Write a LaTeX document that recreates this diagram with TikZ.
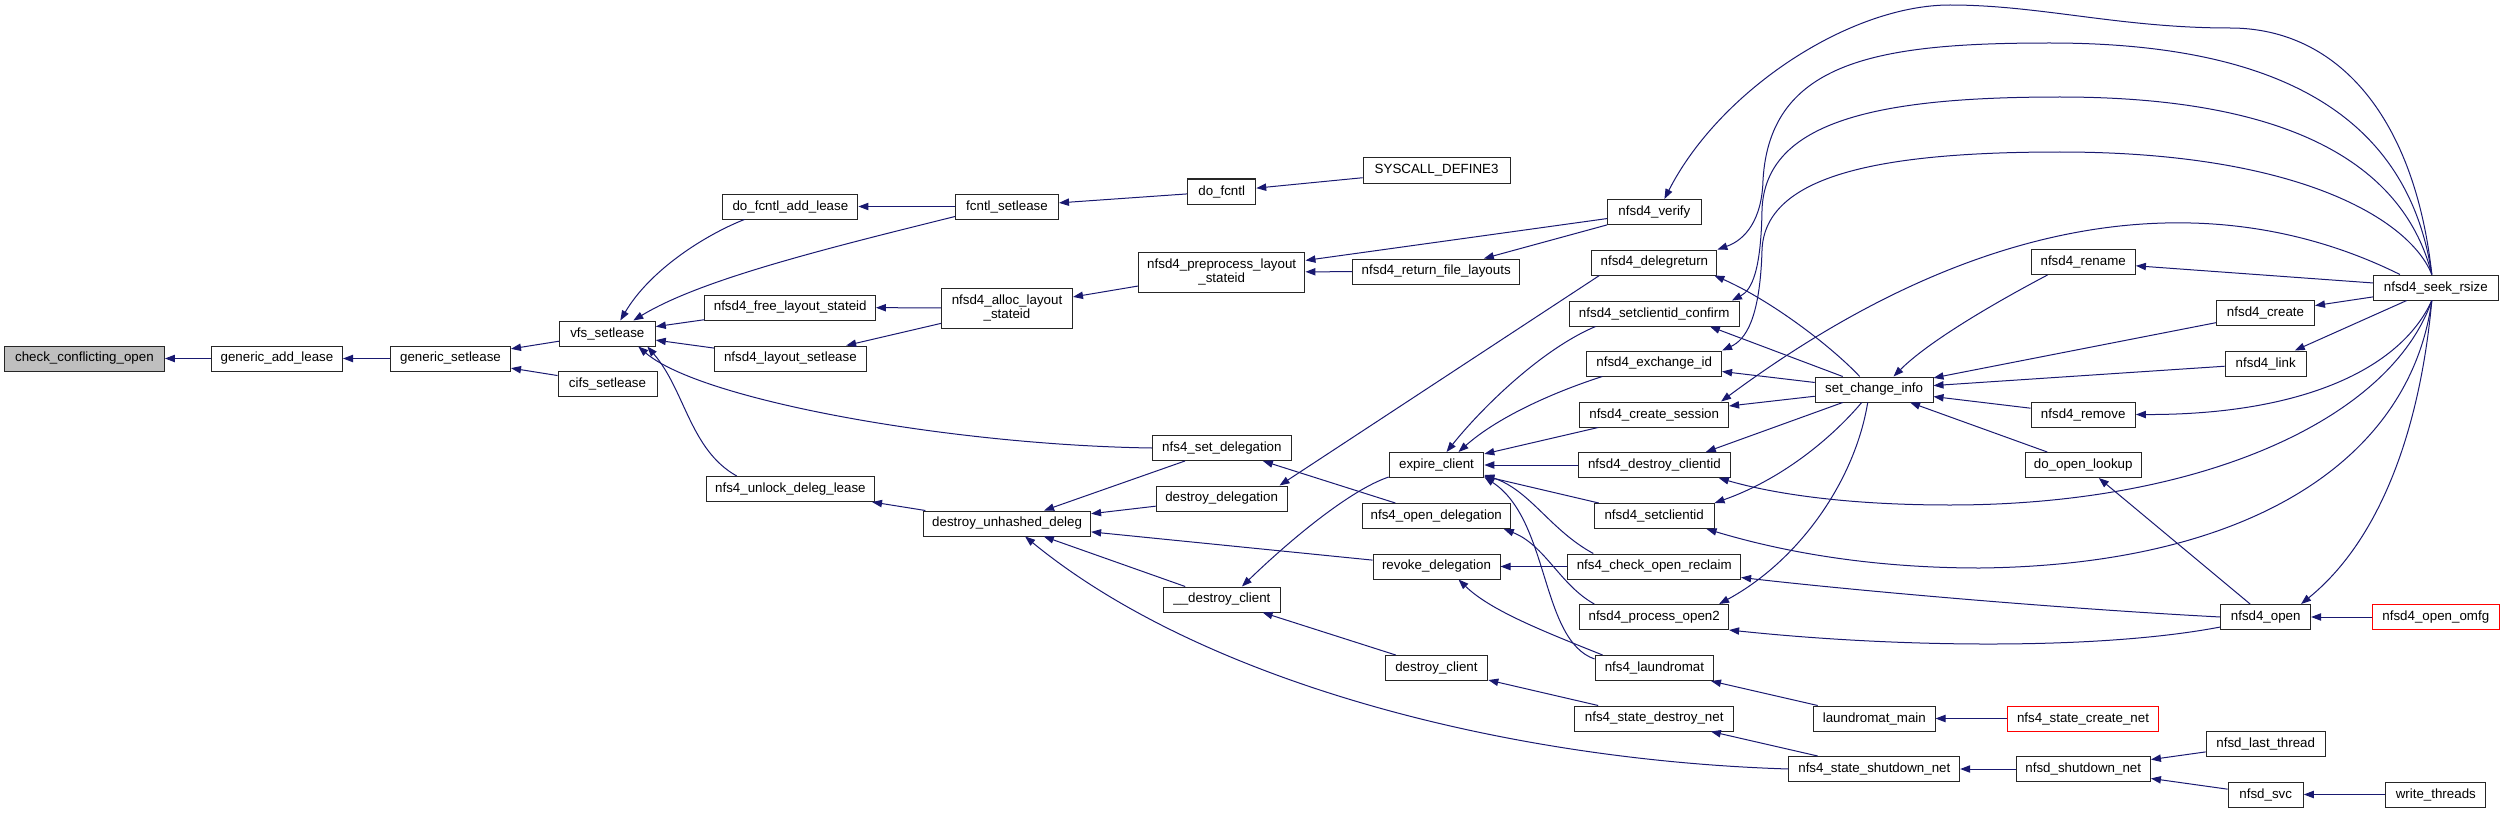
\documentclass[tikz,border=0pt]{standalone}
\usepackage{fontspec}
\setmainfont{Liberation Sans}
\usetikzlibrary{arrows.meta,calc}
\definecolor{edgeblue}{HTML}{191970}
\definecolor{rootgray}{HTML}{BFBFBF}

\begin{document}
\begin{tikzpicture}[x=0.75pt,y=-0.75pt,
    fn/.style={draw=black!85,fill=white,line width=0.75pt,inner xsep=2pt,inner ysep=0pt,
      minimum height=18.75pt,align=center,font=\fontsize{10}{10.7}\selectfont},
    bw/.style={minimum width=#1*0.75pt},
    tall/.style={minimum height=30pt},
    redbox/.style={draw=red},
    call/.style={draw=edgeblue,line width=0.75pt,-{Triangle[length=7.5pt,width=5.5pt]}}]
    \useasboundingbox (0,0) rectangle (2504,813);

    \node[fn,bw=160,fill=rootgray] (root) at (84.4,358.5) {check\_conflicting\_open};
    \node[fn,bw=131] (gal) at (277,358.5) {generic\_add\_lease};
    \node[fn,bw=120] (gsl) at (450.5,358.5) {generic\_setlease};
    \node[fn,bw=96] (vfs) at (607.3,333.5) {vfs\_setlease};
    \node[fn,bw=99] (cifs) at (607.5,383.5) {cifs\_setlease};
    \node[fn,bw=135] (dfal) at (790.4,206.5) {do\_fcntl\_add\_lease};
    \node[fn,bw=103] (fsl) at (1007,206.5) {fcntl\_setlease};
    \node[fn,bw=68] (dofcntl) at (1221.7,191.5) {do\_fcntl};
    \node[fn,bw=147] (sysdef) at (1436.6,170.5) {SYSCALL\_DEFINE3};
    \node[fn,bw=170.5] (fls) at (790.2,307.5) {nfsd4\_free\_layout\_stateid};
    \node[fn,bw=152] (lsl) at (790.4,358.5) {nfsd4\_layout\_setlease};
    \node[fn,bw=131,tall] (als) at (1007,308) {nfsd4\_alloc\_layout\\\_stateid};
    \node[fn,bw=166.5,tall] (pls) at (1221.7,272) {nfsd4\_preprocess\_layout\\\_stateid};
    \node[fn,bw=93.6] (verify) at (1654.4,212) {nfsd4\_verify};
    \node[fn,bw=167] (rfl) at (1436.2,271.5) {nfsd4\_return\_file\_layouts};
    \node[fn,bw=125] (deleg) at (1654.4,262.5) {nfsd4\_delegreturn};
    \node[fn,bw=170.4] (scc) at (1654.2,313.5) {nfsd4\_setclientid\_confirm};
    \node[fn,bw=134.7] (exid) at (1654.2,363.5) {nfsd4\_exchange\_id};
    \node[fn,bw=148.8] (csess) at (1654.2,414.5) {nfsd4\_create\_session};
    \node[fn,bw=151.8] (dcid) at (1654.4,465) {nfsd4\_destroy\_clientid};
    \node[fn,bw=119.7] (scid) at (1654.2,516) {nfsd4\_setclientid};
    \node[fn,bw=172.8] (cor) at (1654.2,566.5) {nfs4\_check\_open\_reclaim};
    \node[fn,bw=148.8] (po2) at (1654.2,617) {nfsd4\_process\_open2};
    \node[fn,bw=118.7] (laund) at (1654.4,668) {nfs4\_laundromat};
    \node[fn,bw=158.8] (sdn) at (1654.2,718.5) {nfs4\_state\_destroy\_net};
    \node[fn,bw=117.8] (sci) at (1874.1,389.5) {set\_change\_info};
    \node[fn,bw=121.4] (lmain) at (1874.3,718.5) {laundromat\_main};
    \node[fn,bw=170.7] (ssn) at (1874.3,769) {nfs4\_state\_shutdown\_net};
    \node[fn,bw=94.6] (expire) at (1436.5,465) {expire\_client};
    \node[fn,bw=148] (nod) at (1436.3,516) {nfs4\_open\_delegation};
    \node[fn,bw=127] (revoke) at (1436.5,566.5) {revoke\_delegation};
    \node[fn,bw=102.8] (dcl) at (1436.4,668) {destroy\_client};
    \node[fn,bw=139.3] (nsd) at (1221.9,448) {nfs4\_set\_delegation};
    \node[fn,bw=168.3] (unlock) at (790.4,489) {nfs4\_unlock\_deleg\_lease};
    \node[fn,bw=167] (dud) at (1007.1,523.5) {destroy\_unhashed\_deleg};
    \node[fn,bw=130.8] (ddeleg) at (1221.6,498.5) {destroy\_delegation};
    \node[fn,bw=117.8] (dclient) at (1221.9,599.5) {\_\_destroy\_client};
    \node[fn,bw=104.4] (rename) at (2083.2,262) {nfsd4\_rename};
    \node[fn,bw=124.8] (seek) at (2435.8,287.5) {nfsd4\_seek\_rsize};
    \node[fn,bw=97.9] (create) at (2265.5,313) {nfsd4\_create};
    \node[fn,bw=81.4] (link) at (2265.7,363.5) {nfsd4\_link};
    \node[fn,bw=104.4] (remove) at (2083.2,414.5) {nfsd4\_remove};
    \node[fn,bw=115.9] (dol) at (2083.2,465) {do\_open\_lookup};
    \node[fn,bw=89.7] (nopen) at (2265.7,617) {nfsd4\_open};
    \node[fn,bw=126.4,redbox] (omfg) at (2435.8,617) {nfsd4\_open\_omfg};
    \node[fn,bw=151,redbox] (scn) at (2083,718.5) {nfs4\_state\_create\_net};
    \node[fn,bw=119.1] (nlt) at (2265.7,743.5) {nfsd\_last\_thread};
    \node[fn,bw=134.4] (nsn) at (2083.2,769) {nfsd\_shutdown\_net};
    \node[fn,bw=75.1] (svc) at (2265.7,794.5) {nfsd\_svc};
    \node[fn,bw=100.2] (wt) at (2435.8,794.5) {write\_threads};

    \draw[call] (gal) -- (root);
    \draw[call] (gsl) -- (gal);
    \draw[call] (vfs) -- (gsl);
    \draw[call] (cifs) -- (gsl);
    \draw[call] ($(dfal.south west)+(22,0)$) .. controls (705,235) and (650,270) .. ($(vfs.north)+(13,0)$);
    \draw[call] ($(fsl.south west)+(0,-3)$) .. controls (820,250) and (700,280) .. ($(vfs.north)+(26,0)$);
    \draw[call] (fls) -- (vfs);
    \draw[call] (lsl) -- (vfs);
    \draw[call] (nsd.west) .. controls (950,445) and (700,400) .. ($(vfs.south)+(31,0)$);
    \draw[call] ($(unlock.north west)+(31,0)$) .. controls (690,450) and (685,390) .. ($(vfs.south)+(40,0)$);
    \draw[call] (fsl) -- (dfal);
    \draw[call] (dofcntl) -- (fsl);
    \draw[call] (sysdef) -- (dofcntl);
    \draw[call] (als) -- (fls);
    \draw[call] (als) -- (lsl);
    \draw[call] (pls) -- (als);
    \draw[call] (verify) -- (pls);
    \draw[call] (rfl) -- (pls);
    \draw[call] (verify) -- (rfl);

    \draw[call] ($(seek.north)+(-4,0)$) .. controls (2415,120) and (2340,28) .. (2230,28)
      .. controls (2120,28) and (2040,5) .. (1950,5) .. controls (1850,5) and (1720,90) .. ($(verify.north)+(10,0)$);
    \draw[call] ($(seek.north)+(-4,0)$) .. controls (2410,130) and (2300,43) .. (2050,43)
      .. controls (1880,43) and (1770,60) .. (1763,180) .. controls (1762,220) and (1745,240) .. (deleg.north east);
    \draw[call] ($(seek.north)+(-4,0)$) .. controls (2405,170) and (2300,97) .. (2060,97)
      .. controls (1880,97) and (1765,120) .. (1762,210) .. controls (1761,270) and (1752,290) .. ($(scc.north east)+(-8,0)$);
    \draw[call] ($(seek.north)+(-4,0)$) .. controls (2410,220) and (2300,152) .. (2060,152)
      .. controls (1880,152) and (1765,175) .. (1762,250) .. controls (1760,320) and (1745,340) .. (exid.north east);
    \draw[call] ($(seek.north west)+(27,0)$) .. controls (2250,200) and (2020,180) .. ($(csess.north east)+(-8,0)$);
    \draw[call] (seek) -- (rename);
    \draw[call] (seek) -- (create);
    \draw[call] (seek) -- (link);
    \draw[call] ($(seek.south)+(-4,0)$) .. controls (2400,370) and (2300,415) .. (remove.east);
    \draw[call] ($(seek.south)+(-4,0)$) .. controls (2420,430) and (2380,540) .. ($(nopen.north east)+(-10,0)$);
    \draw[call] ($(seek.south)+(-4,0)$) .. controls (2390,420) and (2200,505) .. (1950,505)
      .. controls (1830,505) and (1760,490) .. ($(dcid.south east)+(-12,0)$);
    \draw[call] ($(seek.south)+(-4,0)$) .. controls (2410,460) and (2250,565) .. (1980,568)
      .. controls (1850,568) and (1760,545) .. ($(scid.south east)+(-8,0)$);

    \draw[call] (nopen.west) .. controls (2050,608) and (1850,590) .. ($(cor.south east)+(0,-2)$);
    \draw[call] ($(nopen.south west)+(0,-3)$) .. controls (2100,650) and (1900,648) .. (po2.south east);
    \draw[call] (omfg) -- (nopen);
    \draw[call] (nopen) -- (dol);
    \draw[call] ($(rename.south west)+(17,0)$) .. controls (2000,300) and (1930,340) .. ($(sci.north east)+(-40,0)$);
    \draw[call] (create) -- (sci);
    \draw[call] (link) -- (sci);
    \draw[call] (remove) -- (sci);
    \draw[call] (dol) -- (sci);

    \draw[call] ($(sci.north west)+(45,0)$) .. controls (1830,345) and (1770,300) .. ($(deleg.south east)+(-3,0)$);
    \draw[call] ($(sci.north west)+(28,0)$) -- ($(scc.south east)+(-30,0)$);
    \draw[call] (sci) -- (exid);
    \draw[call] (sci) -- (csess);
    \draw[call] ($(sci.south west)+(28,0)$) -- ($(dcid.north east)+(-25,0)$);
    \draw[call] ($(sci.south west)+(47,0)$) .. controls (1830,440) and (1780,480) .. (scid.north east);
    \draw[call] ($(sci.south west)+(53,0)$) .. controls (1855,480) and (1800,560) .. ($(po2.north east)+(-10,0)$);

    \draw[call] ($(scc.south west)+(27,0)$) .. controls (1540,350) and (1480,410) .. ($(expire.north)+(10,0)$);
    \draw[call] ($(exid.south west)+(16,0)$) .. controls (1560,390) and (1500,415) .. ($(expire.north)+(22,0)$);
    \draw[call] (csess) -- (expire);
    \draw[call] (dcid) -- (expire);
    \draw[call] (scid) -- (expire);
    \draw[call] ($(cor.north west)+(26,0)$) .. controls (1550,530) and (1530,490) .. ($(expire.south east)+(0,-3)$);
    \draw[call] ($(laund.west)+(0,-9)$) .. controls (1540,640) and (1550,520) .. ($(expire.south east)+(0,-1)$);
    \draw[call] ($(po2.north west)+(15,0)$) .. controls (1560,585) and (1545,545) .. ($(nod.south east)+(-7,0)$);
    \draw[call] (nod) -- (nsd);
    \draw[call] ($(deleg.south west)+(8,0)$) -- ($(ddeleg.north east)+(-8,0)$);
    \draw[call] (nsd) -- (dud);
    \draw[call] (ddeleg) -- (dud);
    \draw[call] (revoke) -- (dud);
    \draw[call] (dclient) -- (dud);
    \draw[call] (ssn.west) .. controls (1500,760) and (1200,680) .. ($(dud.south)+(18,0)$);
    \draw[call] (dud) -- (unlock);
    \draw[call] (dcl) -- (dclient);
    \draw[call] ($(expire.south west)+(0,-1)$) .. controls (1350,490) and (1290,540) .. ($(dclient.north)+(20,0)$);
    \draw[call] (cor) -- (revoke);
    \draw[call] ($(laund.north west)+(8,0)$) .. controls (1540,630) and (1490,610) .. ($(revoke.south)+(22,0)$);
    \draw[call] (lmain) -- (laund);
    \draw[call] (scn) -- (lmain);
    \draw[call] (sdn) -- (dcl);
    \draw[call] (ssn) -- (sdn);
    \draw[call] (nsn) -- (ssn);
    \draw[call] (nlt) -- (nsn);
    \draw[call] (svc) -- (nsn);
    \draw[call] (wt) -- (svc);
\end{tikzpicture}
\end{document}
